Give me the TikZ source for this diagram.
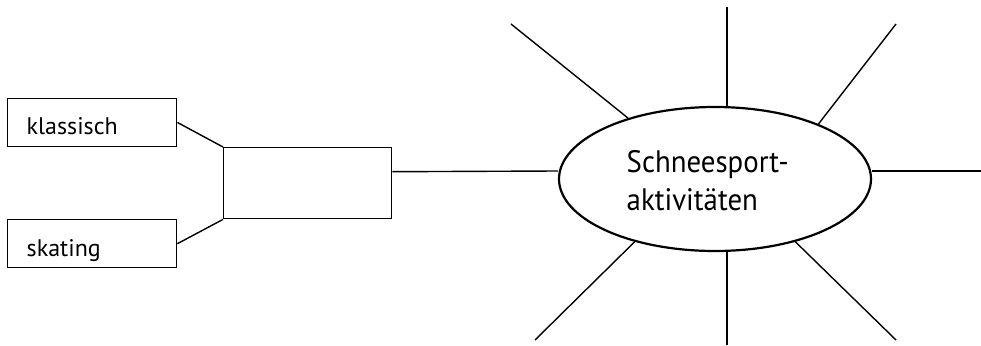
\documentclass[tikz,border=0pt]{standalone}
\usepackage{fontspec}
\setmainfont{PT Sans}
\newfontfamily\narrowfont[FakeStretch=0.93]{PT Sans}
\usetikzlibrary{shapes.geometric}
\begin{document}
\begin{tikzpicture}[x=1pt, y=-1pt, line width=1.4pt,
  box/.style={draw, rectangle, inner sep=0pt, anchor=north west},
  smalltext/.style={anchor=base west, inner sep=0pt, font=\fontsize{24}{28}\selectfont},
  bigtext/.style={anchor=base west, inner sep=0pt, font=\narrowfont\fontsize{31}{38}\selectfont},
  ray/.style={line width=1.4pt}]
\useasboundingbox (0,0) rectangle (981,345);

% left-hand boxes and the hub box
\node[box, minimum width=169pt, minimum height=48.5pt] (klass) at (7,97.5) {};
\node[box, minimum width=169pt, minimum height=48pt] (skat) at (7,219) {};
\node[box, minimum width=168pt, minimum height=71pt] (mid) at (223,147) {};

\node[smalltext] (klasstxt) at (26,134) {klassisch};
\begin{scope}
  \clip (skat.north west) rectangle (skat.south east);
  \node[smalltext] (skattxt) at (26,256) {skating};
\end{scope}

% central ellipse
\node[ellipse, draw, line width=2.2pt, minimum width=312pt, minimum height=144pt, inner sep=0pt] (ell) at (715,179) {};
\node[bigtext] (lineA) at (626,172) {Schneesport-};
\node[bigtext] (lineB) at (626,210) {aktivitäten};

% connectors
\draw (klass.east) -- (mid.north west);
\draw (skat.east) -- (mid.south west);
\draw ([yshift=11.5pt]mid.east) -- ([yshift=8pt]ell.west);

% rays around the ellipse
\coordinate (rN) at (727,7);
\coordinate (rS) at (727,345);
\coordinate (rE) at (981,171);
\coordinate (rNW) at (511,24);
\coordinate (rNE) at (896,24);
\coordinate (rSW) at (535,340);
\coordinate (rSE) at (896,340);
\draw[ray] (rN) -- (rN |- ell.north);
\draw[ray] (rS) -- (rS |- ell.south);
\draw[ray] (rE) -- ([yshift=8pt]ell.east);
\draw[ray] (rNW) -- (ell.145);
\draw[ray] (rNE) -- (ell.28);
\draw[ray] (rSW) -- (ell.218);
\draw[ray] (rSE) -- (ell.322);
\end{tikzpicture}
\end{document}
